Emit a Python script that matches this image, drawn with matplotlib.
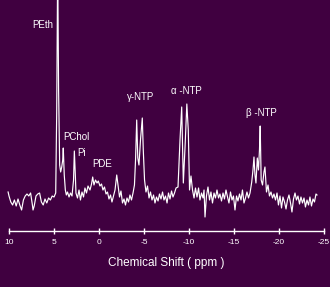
import matplotlib
matplotlib.use("Agg")
import matplotlib.pyplot as plt

plt.rcParams['font.family'] = ['Liberation Sans', 'DejaVu Sans']
plt.rcParams['axes.unicode_minus'] = False

# Chemical shift (ppm) and signal intensity (arbitrary units, baseline ~0)
shift_ppm = [10.1, 10.0, 9.8, 9.6, 9.4, 9.2, 9.0, 8.8, 8.6, 8.4, 8.2, 8.0, 7.8, 7.6, 7.4, 7.33, 7.2, 7.0,
             6.8, 6.6, 6.4, 6.2, 6.0, 5.8, 5.6, 5.4, 5.2, 5.0,
             4.81, 4.70, 4.59, 4.49, 4.37, 4.26, 4.14, 4.03, 3.97, 3.86, 3.74, 3.63, 3.50, 3.33, 3.17,
             3.0, 2.83, 2.74, 2.63, 2.56, 2.39, 2.22, 2.06, 1.89, 1.72, 1.56, 1.39, 1.22, 1.0, 0.83,
             0.70, 0.56, 0.39, 0.22, 0.08, -0.11, -0.28, -0.44, -0.61, -0.78, -0.94, -1.11, -1.28,
             -1.44, -1.61, -1.78, -1.97, -2.11, -2.28, -2.44, -2.61, -2.78, -2.94, -3.11, -3.28,
             -3.44, -3.61, -3.78, -3.94, -4.06, -4.19, -4.31, -4.44, -4.61, -4.81, -4.92, -5.06,
             -5.22, -5.39, -5.56, -5.72, -5.89, -6.06, -6.22, -6.39, -6.56, -6.72, -6.89, -7.06,
             -7.22, -7.39, -7.56, -7.72, -7.89, -8.06, -8.22, -8.39, -8.56, -8.78, -9.0, -9.19,
             -9.37, -9.56, -9.76, -9.92, -10.06, -10.22, -10.39, -10.56, -10.72, -10.89, -11.06,
             -11.22, -11.39, -11.56, -11.67, -11.78, -11.94, -12.11, -12.28, -12.44, -12.61,
             -12.78, -12.94, -13.11, -13.28, -13.44, -13.61, -13.78, -13.94, -14.11, -14.28,
             -14.44, -14.61, -14.78, -14.94, -15.11, -15.28, -15.44, -15.61, -15.78, -15.94,
             -16.11, -16.28, -16.44, -16.61, -16.78, -16.97, -17.11, -17.22, -17.33, -17.44,
             -17.59, -17.72, -17.83, -17.91, -18.02, -18.17, -18.33, -18.44, -18.61, -18.78,
             -18.94, -19.11, -19.28, -19.44, -19.61, -19.78, -19.94, -20.11, -20.28, -20.44,
             -20.61, -20.78, -20.94, -21.11, -21.28, -21.44, -21.61, -21.78, -21.94, -22.11,
             -22.28, -22.44, -22.61, -22.78, -22.94, -23.11, -23.28, -23.44, -23.61, -23.78,
             -23.94, -24.11, -24.22]
intensity = [10, 6, 0, -3, 2, -4, 3, -3, -8, 2, 6, 8, 6, 9, -3, -8, -4, 6,
             8, 9, 0, -3, 3, -1, 4, 2, 6, 5,
             9, 89, 240, 112, 37, 30, 35, 42, 54, 27, 12, 7, 10, 5, 9,
             6, 22, 51, 27, 9, 4, 12, 2, 10, 5, 14, 9, 16, 12, 18,
             25, 17, 22, 19, 21, 16, 18, 12, 15, 8, 10, 3, 7,
             0, 6, 12, 27, 17, 5, 11, -1, 3, -3, 4, 0,
             7, 2, 9, 17, 42, 82, 44, 37, 62, 84, 52, 22,
             10, 16, 4, 10, 2, 7, -1, 5, 1, 8, 3, 10,
             2, 6, -1, 9, 3, 11, 5, 9, 14, 15, 62, 95,
             19, 55, 98, 72, 12, 26, 12, 4, 14, 5, 14,
             2, 9, 4, 12, -15, 6, 15, 2, 10, -1,
             9, 4, 12, 4, 8, 1, 9, 3, 12, 5,
             -1, 10, 2, 6, -8, 6, 1, 8, 2, 12,
             -1, 4, 10, 4, 9, 20, 32, 45, 27, 19,
             44, 32, 52, 76, 22, 17, 30, 35, 10, 17,
             6, 10, 4, 8, 2, 9, -3, 6, -6, 5,
             0, -7, 2, 7, -1, -10, 3, 9, 2, 6,
             -2, 5, -1, 4, -5, 2, -3, 5, -4, 3,
             0, 8, 7]

tick_values = [10, 5, 0, -5, -10, -15, -20, -25]
tick_labels = ['10', '5', '0', '-5', '-10', '-15', '-20', '-25']

bg = '#400040'
fig = plt.figure(figsize=(3.3, 2.87), dpi=100, facecolor=bg)
ax = fig.add_axes([0, 0, 1, 1], facecolor=bg)

ax.plot(shift_ppm, intensity, color='white', lw=0.85)

ax.set_xlim(11, -25.667)
ax.set_ylim(-85, 202)

for s in ['top', 'left', 'right']:
    ax.spines[s].set_visible(False)
ax.spines['bottom'].set_position(('data', -29))
ax.spines['bottom'].set_bounds(10, -25)
ax.spines['bottom'].set_color('white')
ax.spines['bottom'].set_linewidth(1.0)

ax.set_xticks(tick_values)
ax.set_xticklabels(tick_labels)
ax.tick_params(axis='x', direction='inout', length=5, width=1.0, color='white',
               labelcolor='white', labelsize=6, pad=3)
ax.set_yticks([])

fig.text(166 / 330, 1 - 263 / 287, 'Chemical Shift ( ppm )', color='white',
         fontsize=8.5, ha='center', va='center')

lbl = dict(color='white', fontsize=7, ha='left', va='center')
ax.text(7.44, 177, 'PEth', **lbl)
ax.text(4.0, 65, 'PChol', **lbl)
ax.text(2.44, 49, 'Pi', **lbl)
ax.text(0.78, 38, 'PDE', **lbl)
ax.text(-3.11, 105, '\u03b3-NTP', **lbl)
ax.text(-8.0, 111, '\u03b1 -NTP', **lbl)
ax.text(-16.33, 89, '\u03b2 -NTP', **lbl)

fig.savefig('out.png', dpi=100, facecolor=bg)
